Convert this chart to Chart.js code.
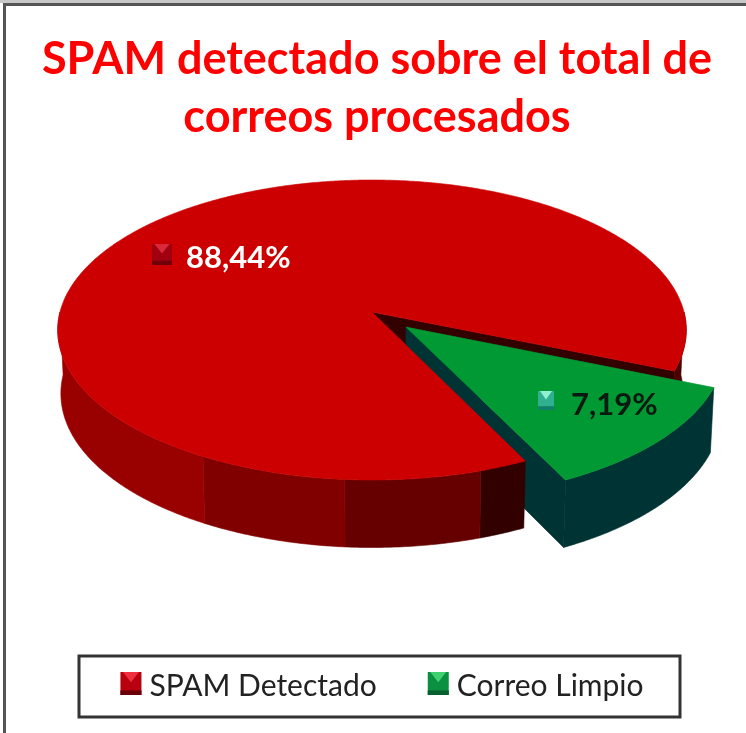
<!DOCTYPE html>
<html><head><meta charset="utf-8">
<style>html,body{margin:0;padding:0;background:#fff}#w{position:relative;width:746px;height:733px}canvas{display:block;filter:blur(0.6px)}</style>
<script src="https://cdn.jsdelivr.net/npm/chart.js@4/dist/chart.umd.min.js"></script>
</head><body><div id="w"><canvas id="c" width="746" height="733"></canvas></div>
<script>
// Data. The printed labels are 88,44% and 7,19%; the green wedge is drawn wider than its label.
const categories = ['SPAM Detectado', 'Correo Limpio'];
const sliceShares = [88.44, 11.56];
const valueLabels = ['88,44%', '7,19%'];
const titleLines = ['SPAM detectado sobre el total de', 'correos procesados'];

const topColors = ['#cc0000', '#009933'];
const PIE_CX = 372, PIE_CY = 312, P = 0.12, Q = 147.84;
const D2R = Math.PI / 180;
const redBands = [[0, 23, '#4d0000'], [63, 72, '#330000'], [72, 94.4, '#660000'], [94.4, 119, '#800000'], [119, 180, '#990000']];

function project(x, y, R) {
  const u = x / R, v = y / R, d = 1 - P * v;
  return { x: PIE_CX + R * u / d, y: PIE_CY + Q * v / d, v };
}
function drop(p) { return { x: PIE_CX + (p.x - PIE_CX) * 0.99, y: p.y + 63 + 4.5 * p.v }; }
function poly(ctx, pts, color) {
  ctx.beginPath();
  pts.forEach((p, i) => i ? ctx.lineTo(p.x, p.y) : ctx.moveTo(p.x, p.y));
  ctx.closePath();
  ctx.fillStyle = color; ctx.strokeStyle = color; ctx.lineWidth = 0.6;
  ctx.fill(); ctx.stroke();
}
function rimPts(a0, a1, ox, oy, R) {
  const pts = [], n = Math.max(2, Math.ceil(Math.abs(a1 - a0) / (0.5 * D2R)));
  for (let i = 0; i <= n; i++) {
    const a = a0 + (a1 - a0) * i / n;
    pts.push(project(ox + R * Math.cos(a), oy + R * Math.sin(a), R));
  }
  return pts;
}
function wall(ctx, a0, a1, ox, oy, R, color) {
  const t = rimPts(a0, a1, ox, oy, R);
  poly(ctx, t.concat(t.map(drop).reverse()), color);
}
function cutWall(ctx, a, ox, oy, R, color) {
  const c = project(ox, oy, R), e = project(ox + R * Math.cos(a), oy + R * Math.sin(a), R);
  poly(ctx, [c, e, drop(e), drop(c)], color);
}
function bevel(ctx, x, y, w, h, base, light, dark) {
  ctx.fillStyle = base; ctx.fillRect(x, y, w, h);
  ctx.fillStyle = dark; ctx.fillRect(x, y + h * 0.8, w, h * 0.2);
  ctx.fillStyle = light;
  ctx.beginPath(); ctx.moveTo(x + w * 0.12, y); ctx.lineTo(x + w * 0.88, y); ctx.lineTo(x + w / 2, y + h * 0.45); ctx.closePath(); ctx.fill();
}

const pie3d = {
  id: 'pie3d',
  beforeDraw(chart) {
    const ctx = chart.ctx;
    ctx.save();
    ctx.fillStyle = '#fff'; ctx.fillRect(0, 0, chart.width, chart.height);
    ctx.fillStyle = '#c8c8c8'; ctx.fillRect(0, 0, chart.width, 3);
    ctx.fillStyle = '#555'; ctx.fillRect(3, 3, chart.width, 3); ctx.fillRect(3, 3, 3, chart.height);
    ctx.restore();
  },
  beforeDatasetsDraw(chart) {
    const ctx = chart.ctx, arcs = chart.getDatasetMeta(0).data;
    const red = arcs[0], green = arcs[1], R = red.outerRadius;
    const gMid = (green.startAngle + green.endAngle) / 2, off = green.options.offset;
    const gx = Math.cos(gMid) * off, gy = Math.sin(gMid) * off;
    ctx.save();
    // hidden walls first, then front walls, then the two top faces
    cutWall(ctx, red.endAngle, 0, 0, R, '#330000');
    wall(ctx, redBands[0][0] * D2R, red.endAngle - 2 * Math.PI, 0, 0, R, redBands[0][2]);
    cutWall(ctx, green.endAngle, gx, gy, R, '#003333');
    wall(ctx, green.startAngle, green.endAngle, gx, gy, R, '#003333');
    redBands.slice(1).forEach(b => wall(ctx, Math.max(b[0] * D2R, red.startAngle), b[1] * D2R, 0, 0, R, b[2]));
    poly(ctx, [project(0, 0, R)].concat(rimPts(red.startAngle, red.endAngle, 0, 0, R)), topColors[0]);
    poly(ctx, [project(gx, gy, R)].concat(rimPts(green.startAngle, green.endAngle, gx, gy, R)), topColors[1]);
    // value labels
    bevel(ctx, 152, 244, 20, 21, '#a00010', '#d8283a', '#70000a');
    bevel(ctx, 538, 391, 16, 19, '#30b090', '#90f0d0', '#108068');
    ctx.font = 'bold 31px Lato';
    ctx.textAlign = 'left'; ctx.textBaseline = 'alphabetic';
    ctx.fillStyle = '#ffffff'; ctx.fillText(valueLabels[0], 186, 268);
    ctx.fillStyle = '#0a1a10'; ctx.fillText(valueLabels[1], 571, 415);
    ctx.restore();
    return false;
  },
  afterDraw(chart) {
    const ctx = chart.ctx, lg = chart.legend;
    ctx.save();
    ctx.strokeStyle = '#333'; ctx.lineWidth = 3;
    ctx.strokeRect(79, 656, 601, 61);
    const st = [['#b80010', '#f03040', '#6a0008'], ['#0a9040', '#40d070', '#056030']];
    lg.legendHitBoxes.forEach((b, i) => {
      const tx = b.left + 24 + 15;
      bevel(ctx, tx - 29, 672, 21, 23, st[i][0], st[i][1], st[i][2]);
    });
    ctx.restore();
  }
};

new Chart(document.getElementById('c'), {
  type: 'pie',
  data: {
    labels: categories,
    datasets: [{ data: sliceShares, backgroundColor: topColors, borderWidth: 0, offset: [0, 46] }]
  },
  plugins: [pie3d],
  options: {
    responsive: false,
    animation: false,
    rotation: 154,
    radius: 312,
    layout: { padding: { left: 8, right: 0, top: 30, bottom: 22 } },
    plugins: {
      tooltip: { enabled: false },
      title: {
        display: true, text: titleLines, color: '#ff0000',
        font: { family: 'Lato', weight: 'bold', size: 45, lineHeight: 1.29 },
        padding: { top: 0, bottom: 0 }
      },
      legend: {
        display: true, position: 'bottom',
        labels: {
          boxWidth: 24, boxHeight: 15, padding: 41, color: '#222',
          font: { family: 'Lato', size: 30 },
          generateLabels(chart) {
            return Chart.overrides.pie.plugins.legend.labels.generateLabels(chart)
              .map(it => Object.assign(it, { fillStyle: 'rgba(0,0,0,0)', strokeStyle: 'rgba(0,0,0,0)', lineWidth: 0 }));
          }
        }
      }
    }
  }
});
</script></body></html>
